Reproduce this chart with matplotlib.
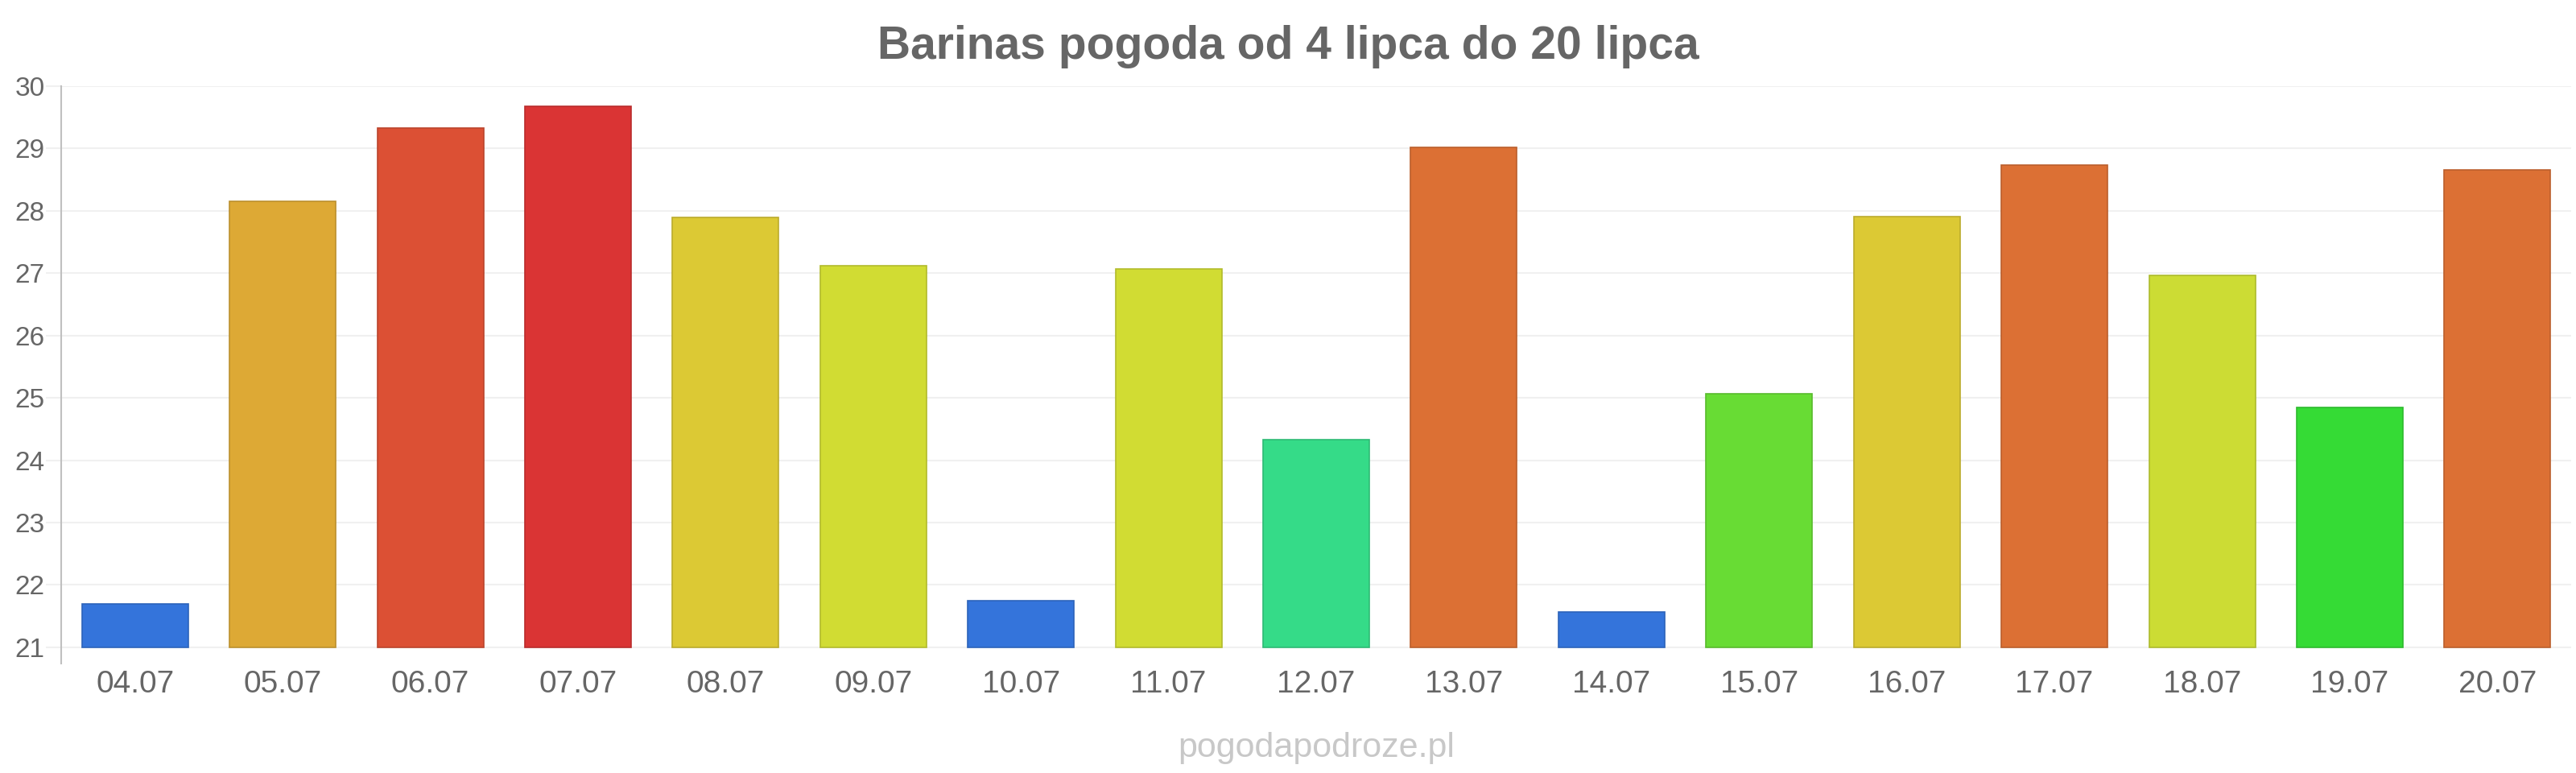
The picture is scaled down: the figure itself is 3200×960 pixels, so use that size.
import matplotlib
matplotlib.use("Agg")
import matplotlib.pyplot as plt
from matplotlib.colors import to_rgb

plt.rcParams['font.family'] = ['Liberation Sans', 'DejaVu Sans']

dates = ["04.07", "05.07", "06.07", "07.07", "08.07", "09.07", "10.07", "11.07", "12.07",
         "13.07", "14.07", "15.07", "16.07", "17.07", "18.07", "19.07", "20.07"]
temps = [21.69, 28.15, 29.33, 29.68, 27.89, 27.12, 21.75, 27.07, 24.33,
         29.02, 21.56, 25.06, 27.91, 28.73, 26.96, 24.84, 28.66]
colors = ["#3474db", "#dda935", "#dc5034", "#da3434", "#dcc934", "#d1dc33", "#3474db",
          "#d1dc33", "#35db88", "#dc7034", "#3474db", "#68dc34", "#dcc934", "#dc7034",
          "#ccdc34", "#35db35", "#dc7034"]
yticks = [21, 22, 23, 24, 25, 26, 27, 28, 29, 30]
title = "Barinas pogoda od 4 lipca do 20 lipca"
credit = "pogodapodroze.pl"
base = 21

def darker(c, f=0.85):
    r, g, b = to_rgb(c)
    return (r * f, g * f, b * f)

fig = plt.figure(figsize=(32, 9.6), dpi=100)
ax = fig.add_axes([0.02375, 0.1417, 0.9744, 0.7469])

x = list(range(len(dates)))
heights = [t - base for t in temps]
ax.bar(x, heights, bottom=base, width=0.72, color=colors,
       edgecolor=[darker(c) for c in colors], linewidth=1.2, zorder=3)

ax.set_xlim(-0.5, len(dates) - 0.5)
ax.set_ylim(20.74, 30)
ax.set_yticks(yticks)
ax.set_yticklabels([str(t) for t in yticks])
ax.set_xticks(x)
ax.set_xticklabels(dates)

ax.grid(axis='y', color='#f0f0f0', linewidth=1.5, zorder=0)
ax.grid(axis='x', visible=False)
for s in ['top', 'right', 'bottom']:
    ax.spines[s].set_visible(False)
ax.spines['left'].set_color('#c0c0c0')
ax.spines['left'].set_linewidth(1.5)

ax.tick_params(axis='y', length=14, width=1.5, color='#f0f0f0', labelsize=24,
               labelcolor='#666666', pad=0.5)
ax.tick_params(axis='x', length=0, labelsize=28, labelcolor='#666666', pad=6)

fig.text(0.5, 0.940, title, ha='center', va='center', fontsize=41,
         fontweight='bold', color='#666666')
fig.text(0.511, 0.032, credit, ha='center', va='center', fontsize=31,
         color='#c8c8c8')

fig.savefig("out.png", dpi=100, facecolor='white')
